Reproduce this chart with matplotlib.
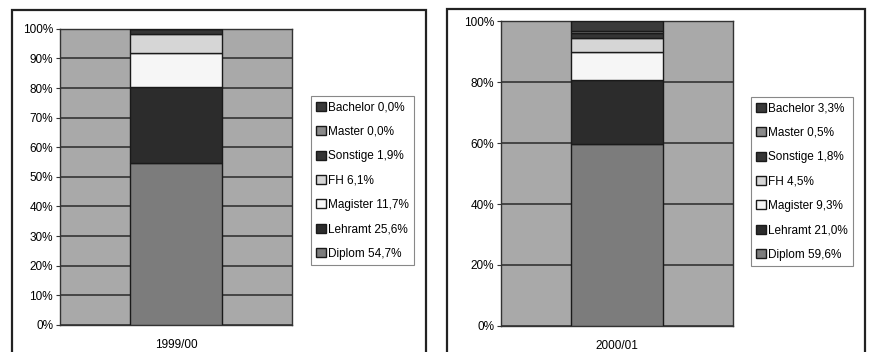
import matplotlib.pyplot as plt
from matplotlib.patches import Rectangle
from matplotlib.ticker import PercentFormatter

plt.rcParams['font.family'] = ['Liberation Sans', 'DejaVu Sans']

# Data (percent), stacking order bottom -> top
categories = ['Diplom', 'Lehramt', 'Magister', 'FH', 'Sonstige', 'Master', 'Bachelor']
years = ['1999/00', '2000/01']
values_1999 = [54.7, 25.6, 11.7, 6.1, 1.9, 0.0, 0.0]
values_2000 = [59.6, 21.0, 9.3, 4.5, 1.8, 0.5, 3.3]
labels_1999 = ['54,7%', '25,6%', '11,7%', '6,1%', '1,9%', '0,0%', '0,0%']
labels_2000 = ['59,6%', '21,0%', '9,3%', '4,5%', '1,8%', '0,5%', '3,3%']

colors = ['#7c7c7c', '#2c2c2c', '#f6f6f6', '#d6d6d6', '#353535', '#8a8a8a', '#3a3a3a']
bg_color = '#a9a9a9'

fig = plt.figure(figsize=(8.69, 3.52), dpi=100)

# outer frames around each chart
fig.patches.append(Rectangle((0.0138, -0.02), 0.476, 0.992, transform=fig.transFigure,
                             fill=False, edgecolor='#222222', linewidth=1.6))
fig.patches.append(Rectangle((0.5145, -0.02), 0.481, 0.994, transform=fig.transFigure,
                             fill=False, edgecolor='#222222', linewidth=1.6))


def draw_panel(ax_rect, leg_anchor, year, values, pct_labels, step):
    ax = fig.add_axes(ax_rect)
    ax.set_facecolor(bg_color)
    bottom = 0
    for cat, val, col in zip(categories, values, colors):
        ax.bar([0], [val], width=0.4, bottom=bottom, color=col,
               edgecolor='#1a1a1a', linewidth=1.0, label=cat, zorder=3)
        bottom += val

    ax.set_xlim(-0.5, 0.5)
    ax.set_ylim(0, 100)
    ax.set_yticks(range(0, 101, step))
    ax.yaxis.set_major_formatter(PercentFormatter(decimals=0))
    ax.set_xticks([0])
    ax.set_xticklabels([year])
    ax.tick_params(axis='x', length=0, pad=10, labelsize=8.5)
    ax.tick_params(axis='y', length=3, width=0.8, labelsize=8.5, color='#333333', pad=2)
    ax.grid(axis='y', color='#2a2a2a', linewidth=1.1, zorder=1)
    ax.set_axisbelow(True)
    for sp in ax.spines.values():
        sp.set_color('#333333')
        sp.set_linewidth(1.0)

    handles, _ = ax.get_legend_handles_labels()
    leg_labels = [f'{c} {p}' for c, p in zip(categories, pct_labels)]
    leg = fig.legend(handles[::-1], leg_labels[::-1], loc='upper left',
                     bbox_to_anchor=leg_anchor, bbox_transform=fig.transFigure,
                     fontsize=8.5, frameon=True, fancybox=False, framealpha=1,
                     edgecolor='#888888', handlelength=0.8, handleheight=0.8,
                     handletextpad=0.2, labelspacing=1.05, borderpad=0.45,
                     borderaxespad=0)
    leg.get_frame().set_linewidth(0.8)
    return ax


draw_panel([0.069, 0.077, 0.267, 0.841], (0.358, 0.727), years[0],
           values_1999, labels_1999, 10)
draw_panel([0.5765, 0.074, 0.267, 0.866], (0.864, 0.724), years[1],
           values_2000, labels_2000, 20)

fig.savefig('out.png', dpi=100)
